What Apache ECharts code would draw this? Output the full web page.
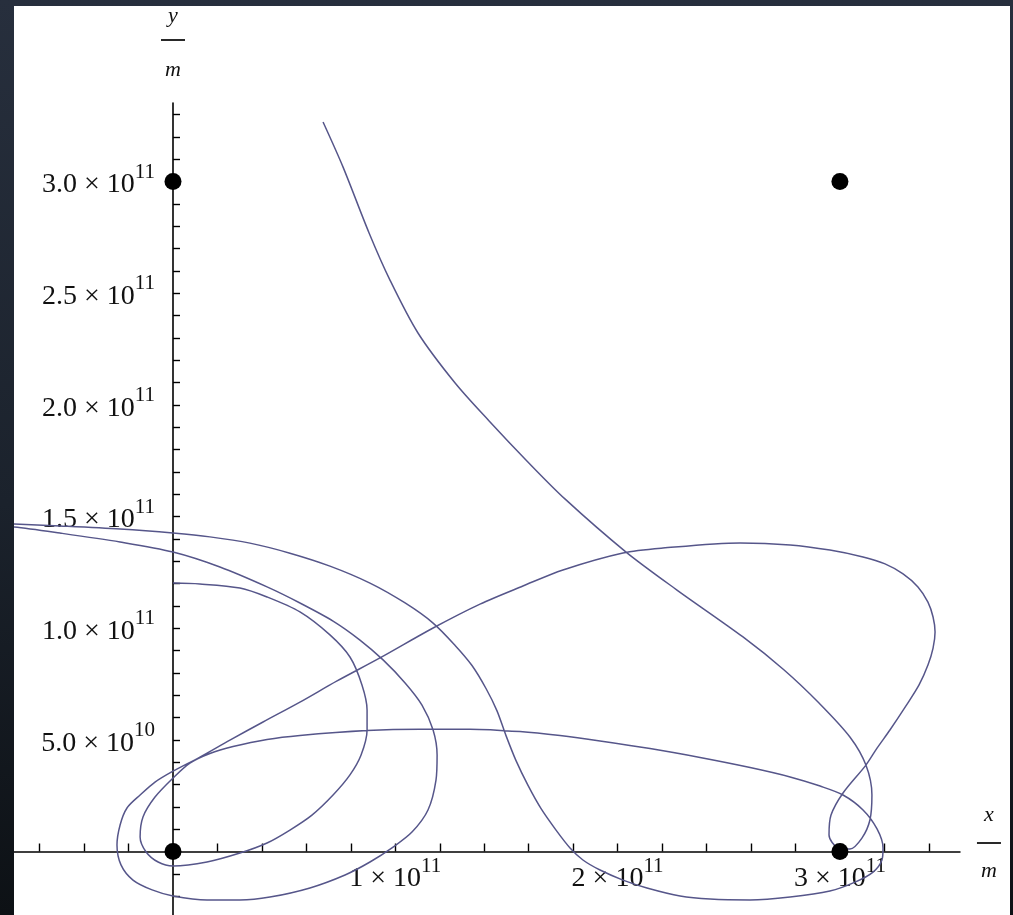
<!DOCTYPE html>
<html>
<head>
<meta charset="utf-8">
<script src="https://cdn.jsdelivr.net/npm/echarts@6/dist/echarts.min.js"></script>
<style>
    html, body { margin: 0; height: 100%; }
    body { background: linear-gradient(to bottom, #272f3d 0%, #1b222c 55%, #0d1115 100%); overflow: hidden; }
    #chart { position: absolute; left: 14px; top: 6px; width: 996px; height: 909px; background: #fff; }
</style>
</head>
<body>
<div id="chart"></div>
<script>
    // trajectory, values in units of 1e10 m
    var pathX = [0, 1.21, 3.01, 4.23, 5.71, 7.06, 7.96, 8.50, 8.73, 8.73, 8.46, 7.96, 7.20, 6.25, 5.26, 4.23, 3.01, 1.53, 0, -0.67, -1.21, -1.48, -1.35, -0.81, 0,
        0.76, 1.66, 2.70, 4.23, 5.71, 8.73, 11.11, 13.36, 15.61, 17.41, 19.21, 21.46, 23.71, 25.96, 27.76, 29.11, 30.14, 31.04, 31.67, 31.94,
        31.89, 31.49, 30.68, 29.55, 27.76, 25.96, 24.16, 22.81, 21.32, 20.24, 19.21, 18.44, 17.86, 17.23, 16.55, 15.97, 15.43, 14.98, 14.57, 14.08, 13.45, 12.69,
        11.70, 10.44, 8.86, 7.06, 5.26, 3.46, 1.66, 0, -2.38, -5.08, -7.15, -8.5, -9.5, -8.5,
        -7.15, -5.08, -2.38, 0, 2.11, 4.23, 5.71, 7.20, 8.41, 9.45, 10.44, 11.20, 11.70, 11.88, 11.83, 11.47, 10.75, 9.90, 8.86, 7.74,
        6.16, 4.36, 3.01, 1.53, 0, -0.94, -1.80, -2.34, -2.52, -2.38, -2.07, -1.48, -0.81, 0,
        1.21, 2.56, 4.05, 5.71, 7.38, 9.31, 11.70, 13.81, 15.74, 17.54, 20.24, 22.04, 25.51, 27.76, 29.55, 31.04, 32.03, 32.84, 33.51, 33.96, 34.19,
        34.28, 34.19, 33.96, 33.56, 32.97, 32.25, 31.67, 31.17, 30.14, 29.60, 29.51, 29.91, 30.45, 30.99, 31.35, 31.44, 31.17, 30.45, 29.06, 27.49,
        25.64, 22.67, 20.38, 17.63, 15.92, 14.22, 12.69, 11.02, 9.76, 8.82, 7.65, 6.75];
    var pathY = [12.02, 11.98, 11.80, 11.40, 10.73, 9.70, 8.71, 7.46, 6.34, 5.44, 4.32, 3.43, 2.53, 1.63, 0.96, 0.38, -0.07, -0.47, -0.65, -0.47, -0.02, 0.65, 1.55, 2.44, 3.29,
        3.96, 4.39, 4.70, 5.02, 5.20, 5.42, 5.48, 5.48, 5.37, 5.19, 4.95, 4.61, 4.21, 3.76, 3.34, 2.93, 2.53, 1.86, 1.01, 0.16,
        -0.38, -0.92, -1.37, -1.77, -2.04, -2.17, -2.13, -1.99, -1.63, -1.28, -0.83, -0.38, 0.16, 0.96, 1.93, 2.96, 4.07, 5.19, 6.31, 7.30, 8.33, 9.23,
        10.23, 11.13, 12.02, 12.78, 13.36, 13.81, 14.09, 14.26, 14.44, 14.58, 14.67, 14.72, 14.70, 14.60,
        14.53, 14.26, 13.86, 13.41, 12.74, 11.85, 11.13, 10.32, 9.47, 8.58, 7.55, 6.56, 5.44, 4.32, 3.20, 1.86, 0.87, 0.20, -0.47, -1.05,
        -1.63, -2.04, -2.17, -2.17, -1.99, -1.72, -1.28, -0.60, 0.29, 1.19, 1.95, 2.53, 3.11, 3.60,
        4.23, 4.99, 5.80, 6.69, 7.64, 8.67, 10.01, 11.08, 11.89, 12.61, 13.37, 13.59, 13.82, 13.73, 13.50, 13.19, 12.88, 12.43, 11.85, 11.17, 10.50,
        9.83, 9.11, 8.35, 7.46, 6.52, 5.44, 4.63, 3.87, 2.62, 1.63, 0.74, 0.16, 0.11, 0.60, 1.41, 2.53, 3.87, 5.13, 6.65, 8.13,
        9.61, 11.71, 13.41, 15.79, 17.49, 19.28, 20.98, 23.22, 25.59, 27.70, 30.65, 32.67];

    // fixed bodies
    var bodyX = [0, 30, 0, 30];
    var bodyY = [0, 0, 30, 30];

    // ticks and labels
    var xTicks = [-6, -4, -2, 0, 2, 4, 6, 8, 10, 12, 14, 16, 18, 20, 22, 24, 26, 28, 30, 32, 34];
    var xLabels = [10, 20, 30];
    var yTicks = [-2, -1, 0, 1, 2, 3, 4, 5, 6, 7, 8, 9, 10, 11, 12, 13, 14, 15, 16, 17, 18, 19, 20, 21, 22, 23, 24, 25, 26, 27, 28, 29, 30, 31, 32, 33];
    var yLabels = [5, 10, 15, 20, 25, 30];

    var XMIN = -8, XMAX = 35.40, YMIN = -3, YMAX = 33.52;

    var SERIF = '"Liberation Serif", "DejaVu Serif", serif';
    var INK = '#111';

    var numRich = {
        m: { fontFamily: SERIF, fontSize: 28, color: INK, lineHeight: 34 },
        s: { fontFamily: SERIF, fontSize: 21, color: INK, height: 8, lineHeight: 8, verticalAlign: 'top' }
    };
    var nameRich = function (h1, h3) {
        return {
            a: { fontFamily: SERIF, fontStyle: 'italic', fontSize: 22, color: INK, lineHeight: h1 },
            bar: { width: 24, height: 1.8, backgroundColor: INK, lineHeight: 8 },
            b: { fontFamily: SERIF, fontStyle: 'italic', fontSize: 22, color: INK, lineHeight: h3 }
        };
    };

    var isIn = function (list, v) {
        for (var i = 0; i < list.length; i++) if (Math.abs(list[i] - v) < 1e-6) return true;
        return false;
    };
    var fmtX = function (v) {
        if (!isIn(xLabels, v)) return '';
        return '{m|' + Math.round(v / 10) + ' \u00d7 10}{s|11}';
    };
    var fmtY = function (v) {
        if (!isIn(yLabels, v)) return '';
        if (v < 10) return '{m|' + v.toFixed(1) + ' \u00d7 10}{s|10}';
        return '{m|' + (v / 10).toFixed(1) + ' \u00d7 10}{s|11}';
    };

    var pathData = pathX.map(function (x, i) { return [x, pathY[i]]; });
    var bodyData = bodyX.map(function (x, i) { return [x, bodyY[i]]; });

    // grid: x from -8 (left, off the white area) ; y from -3 (bottom)
    var GRID = { left: -18.84, top: 97, width: 964.8, height: 815.5 };
    // axes are moved in to cross at the origin
    var X_OFFSET = -67;
    var Y_OFFSET = -177.84;

    var chart = echarts.init(document.getElementById('chart'));
    chart.setOption({
        animation: false,
        backgroundColor: '#fff',
        grid: { left: GRID.left, top: GRID.top, width: GRID.width, height: GRID.height, outerBoundsMode: 'none', containLabel: false },
        xAxis: {
            type: 'value', min: XMIN, max: XMAX, interval: 2,
            position: 'bottom', offset: X_OFFSET,
            axisLine: { onZero: false, lineStyle: { color: '#000', width: 1.6 } },
            axisTick: { show: true, inside: true, length: 8, customValues: xTicks, lineStyle: { color: '#000', width: 1.4 } },
            axisLabel: { show: true, margin: 10.5, formatter: fmtX, rich: numRich, showMinLabel: false, showMaxLabel: false },
            splitLine: { show: false },
            name: '{a|x}\n{bar|}\n{b|m}',
            nameLocation: 'end', nameGap: 29, nameMoveOverlap: false,
            nameTextStyle: { align: 'center', verticalAlign: 'middle', padding: [0, 0, 17, 0], rich: nameRich(48, 48) }
        },
        yAxis: {
            type: 'value', min: YMIN, max: YMAX, interval: 1,
            position: 'left', offset: Y_OFFSET,
            axisLine: { onZero: false, lineStyle: { color: '#000', width: 1.6 } },
            axisTick: { show: true, inside: true, length: 7, customValues: yTicks, lineStyle: { color: '#000', width: 1.4 } },
            axisLabel: { show: true, margin: 18, padding: [7, 0, 0, 0], formatter: fmtY, rich: numRich, showMinLabel: false, showMaxLabel: false },
            splitLine: { show: false },
            name: '{a|y}\n{bar|}\n{b|m}',
            nameLocation: 'end', nameGap: 7, nameMoveOverlap: false,
            nameTextStyle: { align: 'center', verticalAlign: 'bottom', rich: nameRich(40, 52) }
        },
        series: [
            {
                type: 'line',
                data: pathData,
                smooth: 0.3,
                showSymbol: false,
                clip: true,
                lineStyle: { color: '#56568a', width: 1.5 },
                z: 3
            },
            {
                type: 'scatter',
                data: bodyData,
                symbolSize: 17,
                itemStyle: { color: '#000', opacity: 1 },
                z: 5
            }
        ]
    });
</script>
</body>
</html>
